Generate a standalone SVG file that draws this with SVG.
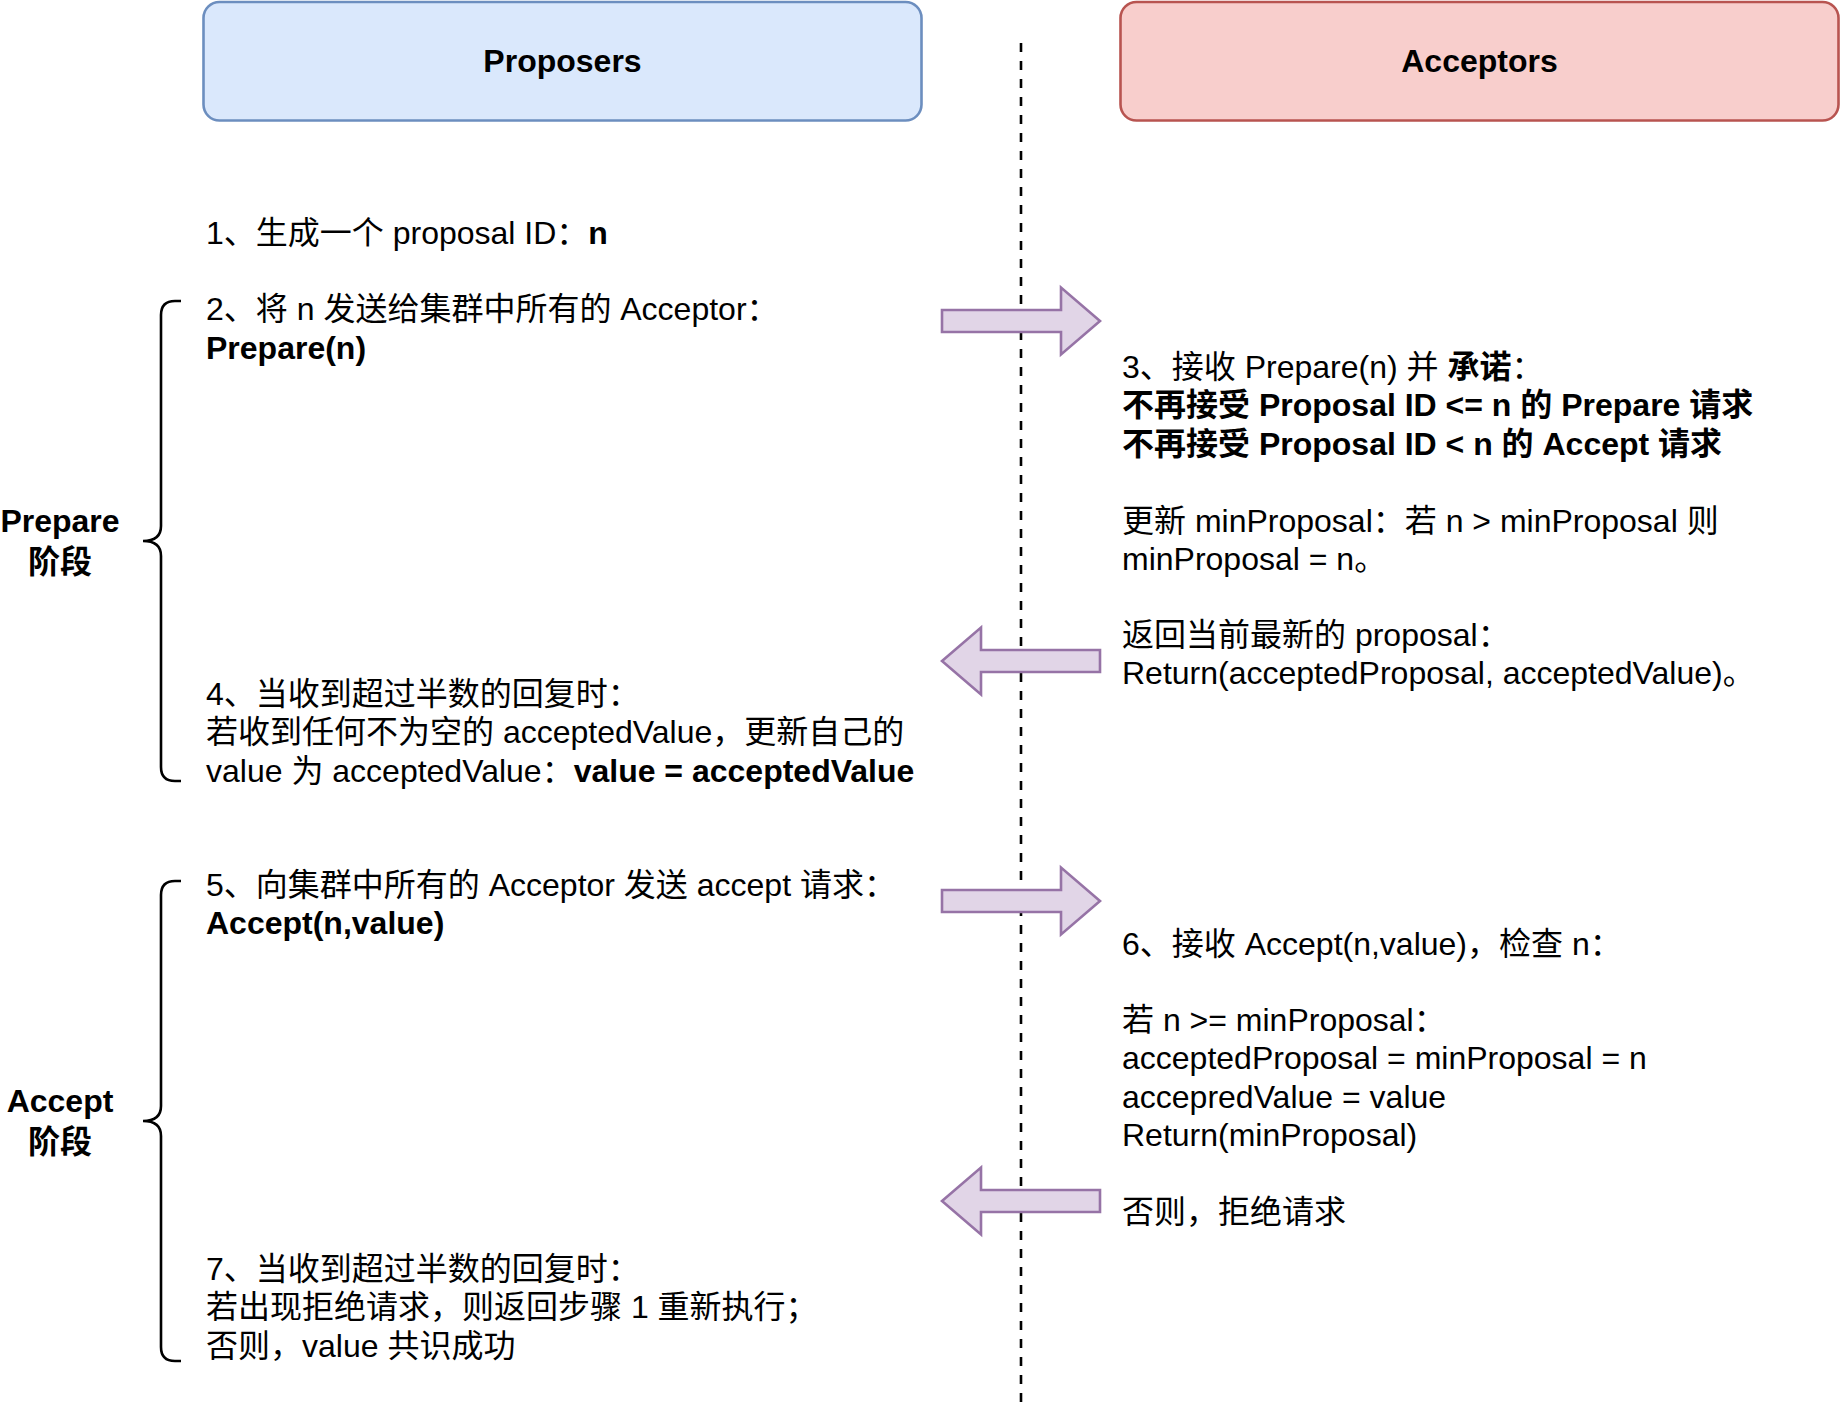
<svg xmlns="http://www.w3.org/2000/svg" width="1842" height="1406" viewBox="0 0 1842 1406">
<style>
  text { font-family: "Liberation Sans", "Noto Sans CJK SC", Arial, sans-serif; font-size: 32px; fill: #000000; }
  .b { font-weight: bold; }
  .hdr { font-weight: bold; text-anchor: middle; }
  .phase { font-weight: bold; text-anchor: middle; }
  .arrow { fill: #e1d5e7; stroke: #9673a6; stroke-width: 2.6; stroke-linejoin: miter; }
  .brace { fill: none; stroke: #000000; stroke-width: 2.6; }
</style>
<rect width="1842" height="1406" fill="#ffffff"/>

<g id="divider">
  <line x1="1021" y1="43" x2="1021" y2="1404" stroke="#000000" stroke-width="2.6" stroke-dasharray="9 9"/>
</g>

<g id="proposers">
  <rect x="203.5" y="2" width="718" height="118.5" rx="16" ry="16" fill="#dae8fc" stroke="#6c8ebf" stroke-width="2.6"/>
  <text class="hdr" x="562.5" y="71.5">Proposers</text>
</g>

<g id="acceptors">
  <rect x="1120.5" y="2" width="718" height="118.5" rx="16" ry="16" fill="#f8cecc" stroke="#b85450" stroke-width="2.6"/>
  <text class="hdr" x="1479.5" y="71.5">Acceptors</text>
</g>

<g id="prepare-phase">
  <path class="brace" d="M181,301 L175,301 Q161,301 161,315 L161,526 Q161,541 143,541 Q161,541 161,556 L161,767 Q161,781 175,781 L181,781"/>
  <text class="phase" x="60" y="532">Prepare</text>
  <text class="phase" x="60" y="572.5">阶段</text>
</g>

<g id="accept-phase">
  <path class="brace" d="M181,881 L175,881 Q161,881 161,895 L161,1106 Q161,1121 143,1121 Q161,1121 161,1136 L161,1347 Q161,1361 175,1361 L181,1361"/>
  <text class="phase" x="60" y="1111.5">Accept</text>
  <text class="phase" x="60" y="1152.5">阶段</text>
</g>

<g id="step1">
  <text x="206" y="243.5">1、生成一个 proposal ID：<tspan class="b">n</tspan></text>
</g>

<g id="step2">
  <text x="206" y="320">2、将 n 发送给集群中所有的 Acceptor：</text>
  <text x="206" y="359" class="b">Prepare(n)</text>
</g>

<g id="step3">
  <text x="1122" y="378">3、接收 Prepare(n) 并 <tspan class="b">承诺</tspan>：</text>
  <text x="1122" y="416.4" class="b">不再接受 Proposal ID &lt;= n 的 Prepare 请求</text>
  <text x="1122" y="454.8" class="b">不再接受 Proposal ID &lt; n 的 Accept 请求</text>
  <text x="1122" y="531.6">更新 minProposal：若 n &gt; minProposal 则</text>
  <text x="1122" y="570">minProposal = n。</text>
  <text x="1122" y="646">返回当前最新的 proposal：</text>
  <text x="1122" y="684.4">Return(acceptedProposal, acceptedValue)。</text>
</g>

<g id="step4">
  <text x="206" y="705">4、当收到超过半数的回复时：</text>
  <text x="206" y="743.4">若收到任何不为空的 acceptedValue，更新自己的</text>
  <text x="206" y="781.8">value 为 acceptedValue：<tspan class="b">value = acceptedValue</tspan></text>
</g>

<g id="step5">
  <text x="206" y="895.5">5、向集群中所有的 Acceptor 发送 accept 请求：</text>
  <text x="206" y="933.9" class="b">Accept(n,value)</text>
</g>

<g id="step6">
  <text x="1122" y="954.5">6、接收 Accept(n,value)，检查 n：</text>
  <text x="1122" y="1031">若 n &gt;= minProposal：</text>
  <text x="1122" y="1069.4">acceptedProposal = minProposal = n</text>
  <text x="1122" y="1107.8">accepredValue = value</text>
  <text x="1122" y="1146.2">Return(minProposal)</text>
  <text x="1122" y="1223">否则，拒绝请求</text>
</g>

<g id="step7">
  <text x="206" y="1280">7、当收到超过半数的回复时：</text>
  <text x="206" y="1318.4">若出现拒绝请求，则返回步骤 1 重新执行；</text>
  <text x="206" y="1356.8">否则，value 共识成功</text>
</g>

<g id="connectors">
  <polygon id="prepare-request" class="arrow" points="942,310 1061,310 1061,287.5 1100,321 1061,354.5 1061,332 942,332"/>
  <polygon id="prepare-response" class="arrow" points="1100,650 981,650 981,627.5 942,661 981,694.5 981,672 1100,672"/>
  <polygon id="accept-request" class="arrow" points="942,890 1061,890 1061,867.5 1100,901 1061,934.5 1061,912 942,912"/>
  <polygon id="accept-response" class="arrow" points="1100,1190 981,1190 981,1167.5 942,1201 981,1234.5 981,1212 1100,1212"/>
</g>
</svg>
